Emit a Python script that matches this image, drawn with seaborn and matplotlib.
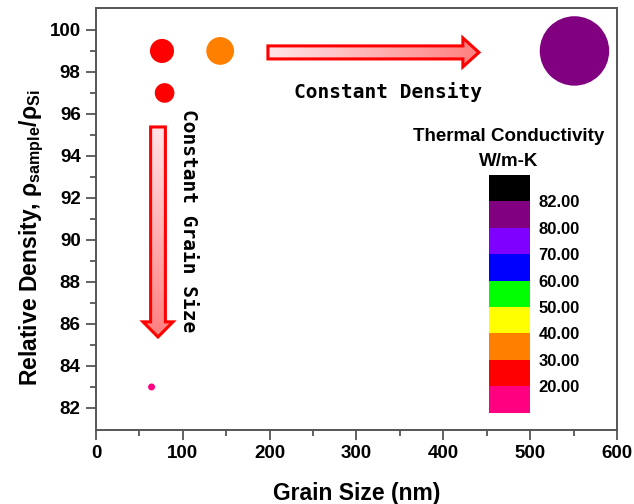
import numpy as np
import pandas as pd
import matplotlib
matplotlib.use("Agg")
import matplotlib.pyplot as plt
import seaborn as sns
from matplotlib.colors import ListedColormap, BoundaryNorm
from matplotlib.patches import FancyArrow
import matplotlib.colorbar as mcolorbar

# ---- data ----
grain_size = [76, 143, 79, 551, 64]          # nm
rel_density = [99, 99, 97, 99, 83]           # %
thermal_k = [25, 35, 25, 81, 15]             # W/m-K
marker_size = [300, 400, 200, 2500, 25]      # point^2 (as drawn)

cbar_levels = [20, 30, 40, 50, 60, 70, 80, 82]
cbar_labels = ["20.00", "30.00", "40.00", "50.00", "60.00", "70.00", "80.00", "82.00"]
cbar_colors = ["#FF0080", "#FF0000", "#FF8000", "#FFFF00", "#00FF00",
               "#0000FF", "#8000FF", "#800080", "#000000"]

# ---- style ----
sns.set_theme(style="white")
plt.rcParams["font.family"] = ["Liberation Sans", "DejaVu Sans"]
plt.rcParams["text.color"] = "black"
plt.rcParams["axes.labelcolor"] = "black"
plt.rcParams["xtick.color"] = "black"
plt.rcParams["ytick.color"] = "black"
plt.rcParams["mathtext.fontset"] = "custom"
plt.rcParams["mathtext.bf"] = "Liberation Sans:bold"
plt.rcParams["mathtext.rm"] = "Liberation Sans:bold"
plt.rcParams["mathtext.default"] = "bf"

cmap = ListedColormap(cbar_colors)
bounds = [0] + cbar_levels + [100]
norm = BoundaryNorm(bounds, cmap.N)

df = pd.DataFrame({"x": grain_size, "y": rel_density, "k": thermal_k, "s": marker_size})
df["col"] = [matplotlib.colors.to_hex(cmap(norm(v))) for v in df["k"]]

fig = plt.figure(figsize=(6.34, 5.04), dpi=100)
ax = fig.add_axes([0.1514, 0.1468, 0.8218, 0.8367])

sns.scatterplot(data=df, x="x", y="y", hue="col", palette={c: c for c in df["col"].unique()},
                size="s", sizes=(min(marker_size), max(marker_size)),
                size_norm=(min(marker_size), max(marker_size)),
                legend=False, linewidth=0, ax=ax, zorder=3)

ax.set_xlim(0, 600)
ax.set_ylim(80.95, 101.03)
ax.set_xticks(np.arange(0, 601, 100))
ax.set_xticks(np.arange(50, 600, 100), minor=True)
ax.set_yticks(np.arange(82, 101, 2))
ax.set_yticks(np.arange(83, 101, 2), minor=True)
ax.tick_params(axis="both", which="major", direction="out", length=7, width=1.3,
               color="#555555", labelcolor="black", labelsize=13.5,
               bottom=True, left=True, top=False, right=False, pad=4)
ax.tick_params(axis="both", which="minor", direction="out", length=4, width=1.3,
               color="#555555", bottom=True, left=True, top=False, right=False)
for lab in ax.get_xticklabels() + ax.get_yticklabels():
    lab.set_fontweight("bold")
for sp in ax.spines.values():
    sp.set_color("#555555")
    sp.set_linewidth(1.4)

ax.set_xlabel("Grain Size (nm)", fontsize=16.5, fontweight="bold", labelpad=14)
ax.set_ylabel(r"Relative Density, $\rho_{sample}/\rho_{Si}$", fontsize=16.5,
              fontweight="bold")
ax.yaxis.set_label_coords(-0.095, 0.455)

# ---- gradient arrows ----
def grad_arrow(x, y, dx, dy, width, head_width, head_length, horizontal):
    arr = FancyArrow(x, y, dx, dy, width=width, head_width=head_width, head_length=head_length,
                     length_includes_head=True, facecolor="none", edgecolor="#FF0000",
                     linewidth=2.2, zorder=4)
    ax.add_patch(arr)
    xs = [x, x + dx]
    ys = [y, y + dy]
    if horizontal:
        ext = [min(xs), max(xs), y - head_width / 2, y + head_width / 2]
        grad = np.linspace(0, 1, 256).reshape(1, -1)
    else:
        ext = [x - head_width / 2, x + head_width / 2, min(ys), max(ys)]
        grad = np.linspace(1, 0, 256).reshape(-1, 1)
    gcmap = matplotlib.colors.LinearSegmentedColormap.from_list("g", ["#FFE4E8", "#FF7F7F"])
    im = ax.imshow(grad, extent=ext, origin="lower", aspect="auto", cmap=gcmap, zorder=3.5)
    im.set_clip_path(arr)

grad_arrow(198, 98.93, 243, 0, 0.62, 1.38, 18.5, True)
grad_arrow(71.4, 95.38, 0, -10.0, 17, 34.5, 0.72, False)
ax.set_xlim(0, 600)
ax.set_ylim(80.95, 101.03)

ax.text(336, 97.06, "Constant Density", fontsize=14, fontweight="bold",
        family="DejaVu Sans Mono", ha="center", va="center", zorder=5)
ax.text(106, 90.9, "Constant Grain Size", fontsize=14, fontweight="bold",
        family="DejaVu Sans Mono", ha="center", va="center", rotation=-90, zorder=5)

# ---- discrete colour scale ----
cax = fig.add_axes([489 / 634, 1 - 412.7 / 504, 41 / 634, 237.7 / 504])
cb = mcolorbar.ColorbarBase(cax, cmap=cmap, norm=BoundaryNorm(np.arange(10), cmap.N),
                            boundaries=np.arange(10), spacing="uniform",
                            ticks=np.arange(1, 9), orientation="vertical")
cb.outline.set_visible(False)
cb.set_ticklabels(cbar_labels)
cax.minorticks_off()
cax.tick_params(which="both", length=0, labelsize=12, pad=6, labelcolor="black")
for lab in cax.get_yticklabels():
    lab.set_fontweight("bold")

fig.text(509 / 634, 1 - 137 / 504, "Thermal Conductivity", fontsize=13.5, fontweight="bold",
         ha="center", va="center")
fig.text(509 / 634, 1 - 161 / 504, "W/m-K", fontsize=13.5, fontweight="bold",
         ha="center", va="center")

fig.savefig("out.png", dpi=100)
